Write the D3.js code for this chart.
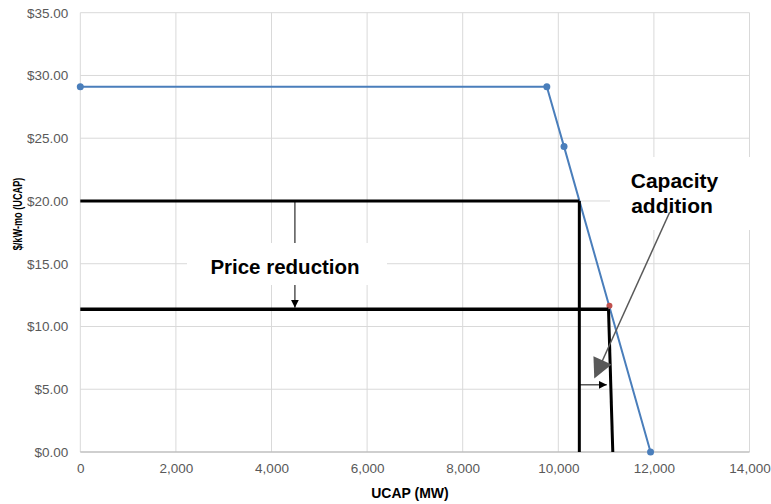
<!DOCTYPE html>
<html><head><meta charset="utf-8">
<script src="https://cdn.jsdelivr.net/npm/d3@7"></script>
<style>body{margin:0;background:#fff;} svg{display:block;} text{font-family:Arial,"Liberation Sans",sans-serif;}</style>
</head><body><svg id="c" width="771" height="504"></svg>
<script>
// Data
const supplyMW = [0, 9760, 10120, 11930];
const supplyPrice = [29.1, 29.1, 24.33, 0];
const clearingPoint = [11070, 11.65];
const oldPrice = 20.0, oldCapacity = 10440;
const newPrice = 11.38, newCapacityTop = 11050, newCapacityBottom = 11140;
const xTicks = [0, 2000, 4000, 6000, 8000, 10000, 12000, 14000];
const yTicks = [0, 5, 10, 15, 20, 25, 30, 35];
const priceArrowMW = 4490;
const capArrowPrice = 5.35;
const capacityArrow = [[12330, 19.1], [10770, 6.0]];

const FONT = "Arial, 'Liberation Sans', sans-serif";
const svg = d3.select("#c");
const x = d3.scaleLinear().domain([0, 14000]).range([80.3, 749.5]);
const y = d3.scaleLinear().domain([0, 35]).range([452, 12.7]);

// gridlines
svg.append("g").selectAll("line").data(yTicks.slice(1)).join("line")
  .attr("x1", x(0)).attr("x2", x(14000)).attr("y1", d => y(d)).attr("y2", d => y(d))
  .attr("stroke", "#d9d9d9").attr("stroke-width", 1);
svg.append("g").selectAll("line").data(xTicks).join("line")
  .attr("x1", d => x(d)).attr("x2", d => x(d)).attr("y1", y(35)).attr("y2", y(0))
  .attr("stroke", "#d9d9d9").attr("stroke-width", 1);
svg.append("line").attr("x1", x(0)).attr("x2", x(14000)).attr("y1", y(0)).attr("y2", y(0))
  .attr("stroke", "#bfbfbf").attr("stroke-width", 1.5);

// axes
const xAxis = d3.axisBottom(x).tickValues(xTicks).tickFormat(d3.format(",")).tickSize(0).tickPadding(11);
const gx = svg.append("g").attr("transform", `translate(0,${y(0)})`).call(xAxis)
  .attr("font-family", FONT).attr("font-size", 13.5);
gx.select(".domain").remove();
gx.selectAll("text").attr("fill", "#595959");

const yAxis = d3.axisLeft(y).tickValues(yTicks).tickFormat(d => "$" + d3.format(".2f")(d)).tickSize(0).tickPadding(12);
const gy = svg.append("g").attr("transform", `translate(${x(0)},0)`).call(yAxis)
  .attr("font-family", FONT).attr("font-size", 13.5);
gy.select(".domain").remove();
gy.selectAll("text").attr("fill", "#595959");

// supply curve
const pts = supplyMW.map((m, i) => [m, supplyPrice[i]]);
svg.append("path").datum(pts)
  .attr("d", d3.line().x(d => x(d[0])).y(d => y(d[1])))
  .attr("fill", "none").attr("stroke", "#4a7ebb").attr("stroke-width", 2);
svg.append("g").selectAll("circle").data(pts).join("circle")
  .attr("cx", d => x(d[0])).attr("cy", d => y(d[1])).attr("r", 3.5).attr("fill", "#4a7ebb");
svg.append("circle").attr("cx", x(clearingPoint[0])).attr("cy", y(clearingPoint[1])).attr("r", 3).attr("fill", "#c0504d");

// black lines
const blk = (x1, y1, x2, y2, w) => svg.append("line").attr("x1", x(x1)).attr("y1", y(y1)).attr("x2", x(x2)).attr("y2", y(y2))
  .attr("stroke", "#000").attr("stroke-width", w);
blk(0, oldPrice, oldCapacity, oldPrice, 3);
blk(oldCapacity, oldPrice, oldCapacity, 0, 3);
blk(0, newPrice, newCapacityTop, newPrice, 3.5);
blk(newCapacityTop, newPrice, newCapacityBottom, 0, 3);

// arrow markers
const defs = svg.append("defs");
defs.append("marker").attr("id", "small").attr("viewBox", "0 0 10 10").attr("refX", 10).attr("refY", 5)
  .attr("markerWidth", 8).attr("markerHeight", 8).attr("markerUnits", "userSpaceOnUse").attr("orient", "auto")
  .append("path").attr("d", "M0,0L10,5L0,10Z").attr("fill", "#000");
defs.append("marker").attr("id", "big").attr("viewBox", "0 0 10 10").attr("refX", 9).attr("refY", 5)
  .attr("markerWidth", 22).attr("markerHeight", 20).attr("markerUnits", "userSpaceOnUse").attr("orient", "auto")
  .append("path").attr("d", "M0,0L10,5L0,10Z").attr("fill", "#595959");

// price reduction arrow
svg.append("line").attr("x1", x(priceArrowMW)).attr("x2", x(priceArrowMW))
  .attr("y1", y(oldPrice) + 1).attr("y2", y(newPrice) - 1.5)
  .attr("stroke", "#000").attr("stroke-width", 1).attr("marker-end", "url(#small)");
// capacity small arrow
svg.append("line").attr("x1", x(oldCapacity)).attr("x2", x(newCapacityBottom) - 6)
  .attr("y1", y(capArrowPrice)).attr("y2", y(capArrowPrice))
  .attr("stroke", "#000").attr("stroke-width", 1).attr("marker-end", "url(#small)");

// Price reduction label box
svg.append("rect").attr("x", 187).attr("y", 243).attr("width", 200).attr("height", 42).attr("fill", "#fff");
svg.append("text").attr("x", 285).attr("y", 274).attr("text-anchor", "middle")
  .attr("font-size", 20.5).attr("font-weight", "bold").attr("fill", "#000").text("Price reduction");

// Capacity addition box
svg.append("rect").attr("x", 610).attr("y", 157).attr("width", 161).attr("height", 73).attr("fill", "#fff");
svg.append("text").attr("x", 674.5).attr("y", 188).attr("text-anchor", "middle")
  .attr("font-size", 21).attr("font-weight", "bold").attr("fill", "#000").text("Capacity");
svg.append("text").attr("x", 672).attr("y", 213).attr("text-anchor", "middle")
  .attr("font-size", 21).attr("font-weight", "bold").attr("fill", "#000").text("addition");

// capacity addition pointer
svg.append("line").attr("x1", x(capacityArrow[0][0])).attr("y1", y(capacityArrow[0][1]))
  .attr("x2", x(capacityArrow[1][0])).attr("y2", y(capacityArrow[1][1]))
  .attr("stroke", "#595959").attr("stroke-width", 1.5).attr("marker-end", "url(#big)");

// axis titles
svg.append("text").attr("transform", "translate(22,214) rotate(-90) scale(0.68,1)").attr("text-anchor", "middle")
  .attr("font-size", 13.5).attr("font-weight", "bold").attr("fill", "#000").text("$/kW-mo (UCAP)");
svg.append("text").attr("x", 410).attr("y", 498).attr("text-anchor", "middle")
  .attr("font-size", 14).attr("font-weight", "bold").attr("fill", "#000").text("UCAP (MW)");
</script></body></html>
